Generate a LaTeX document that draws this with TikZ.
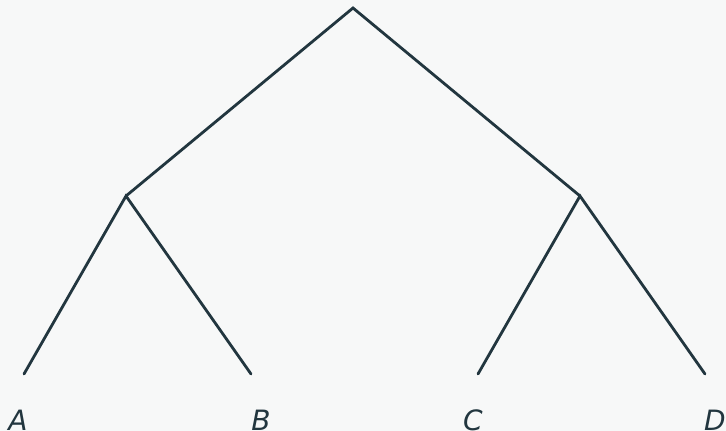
\documentclass[tikz,border=0pt]{standalone}
\usepackage{fontspec}
\setmainfont{DejaVu Sans}
\definecolor{bgc}{HTML}{F7F8F8}
\definecolor{edgec}{HTML}{22363F}
\begin{document}
\begin{tikzpicture}[x=1pt,y=1pt,
  edge/.style={draw=edgec,line width=2.8pt,line cap=round,line join=miter},
  leaflabel/.style={anchor=base,inner sep=0pt,text=edgec,font=\fontsize{28}{30}\selectfont\itshape}]
\fill[bgc] (0,0) rectangle (726,431);
\useasboundingbox (0,0) rectangle (726,431);
\coordinate (root) at (353,423);
\coordinate (l) at (126,235);
\coordinate (r) at (580,235);
\coordinate (a) at (24,57);
\coordinate (b) at (251,57);
\coordinate (c) at (478,57);
\coordinate (d) at (705,57);
\draw[edge] (l) -- (root) -- (r);
\draw[edge] (a) -- (l) -- (b);
\draw[edge] (c) -- (r) -- (d);
\node[leaflabel] (la) at (18,0) {A};
\node[leaflabel] (lb) at (261,0) {B};
\node[leaflabel] (lc) at (473,0) {C};
\node[leaflabel] (ld) at (715,0) {D};
\end{tikzpicture}
\end{document}
